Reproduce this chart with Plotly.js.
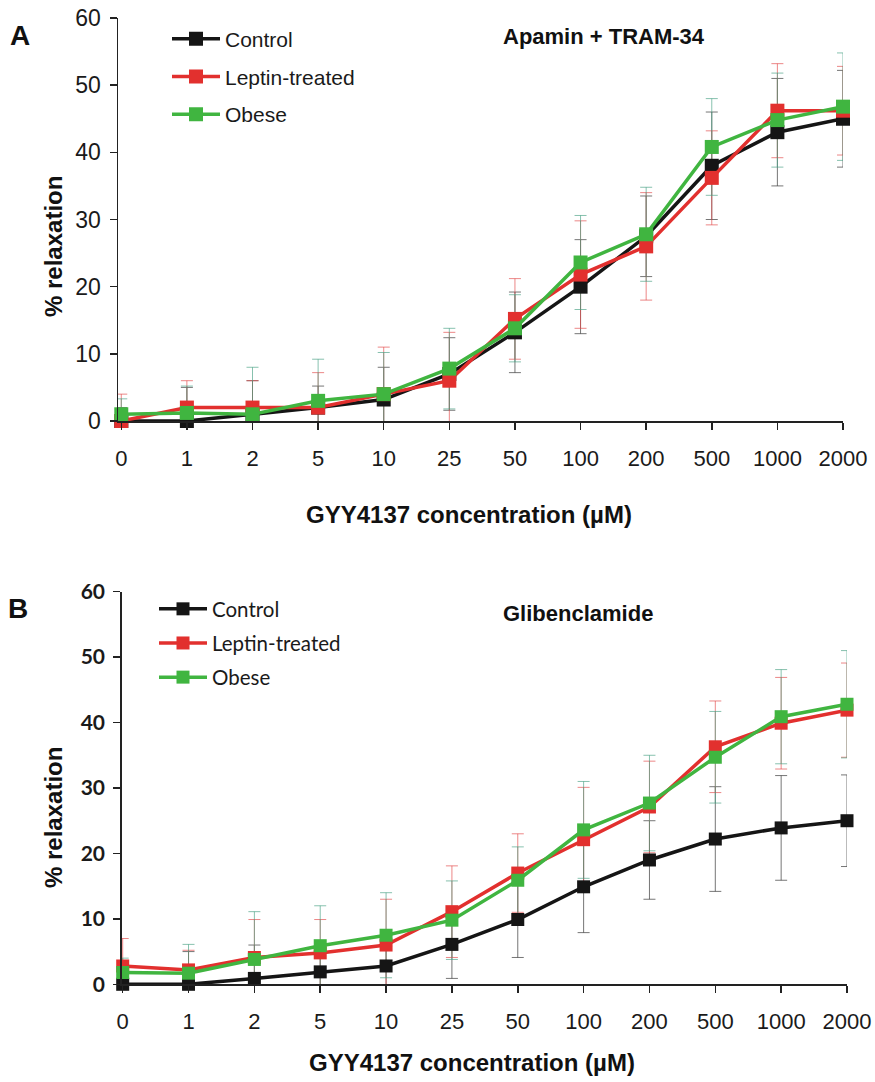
<!DOCTYPE html>
<html>
<head>
<meta charset="utf-8">
<script src="https://cdn.plot.ly/plotly-3.0.1.min.js"></script>
<style>html,body{margin:0;padding:0;background:#fff}#chart{width:875px;height:1082px}</style>
</head>
<body>
<div id="chart"></div>
<script>
// Categories (GYY4137 concentration, µM)
const categories = ['0','1','2','5','10','25','50','100','200','500','1000','2000'];
const seriesNames = ['Control','Leptin-treated','Obese'];

// Panel A: Apamin + TRAM-34
const controlA = [0, 0, 1, 2, 3.2, 7, 13.2, 20, 27.5, 38, 43, 45];
const leptinA  = [0, 2, 2, 2, 4, 6, 15.2, 21.8, 26, 36.2, 46.2, 46.2];
const obeseA   = [1, 1.2, 1, 3, 4, 7.8, 13.8, 23.6, 27.8, 40.8, 44.8, 46.8];
const controlAErr = [2, 5, 5, 3.2, 4.8, 5.4, 6, 7, 6, 8, 8, 7.2];
const leptinAErr  = [4, 4, 4, 5.2, 7, 7.2, 6, 8, 8, 7, 7, 6.6];
const obeseAErr   = [2.3, 4, 7, 6.2, 6.2, 6, 5, 7, 7, 7.2, 7, 8];

// Panel B: Glibenclamide
const controlB = [0, 0, 0.9, 1.9, 2.8, 6.1, 9.9, 14.9, 19, 22.2, 23.9, 25];
const leptinB  = [2.8, 2.2, 4.1, 4.8, 6.0, 11.1, 17, 22.1, 27.1, 36.3, 39.9, 41.9];
const obeseB   = [1.8, 1.7, 3.8, 5.9, 7.5, 9.8, 15.9, 23.6, 27.7, 34.7, 40.9, 42.8];
const controlBErr = [1, 5, 5.1, 2.9, 3, 5.2, 5.8, 7, 6, 8, 8, 7];
const leptinBErr  = [4.2, 3, 5.8, 5.1, 7, 7, 6, 8, 7, 7, 7, 7.2];
const obeseBErr   = [2.2, 4.4, 7.3, 6.1, 6.5, 6, 5.1, 7.4, 7.3, 7, 7.2, 8.2];

const lineColors = ['#151515', '#e2302e', '#40b540'];
const errColors = ['rgba(60,60,60,0.7)', 'rgba(226,70,70,0.65)', 'rgba(70,160,130,0.65)'];

const W = 875, H = 1082;
const ARIAL = 'Liberation Sans, Arial, sans-serif';
const CAL = 'Lato, Carlito, sans-serif';

function panel(vals, errs, xa, ya, legendId, msize) {
  const tr = [];
  // error bars first (behind lines)
  vals.forEach((v, i) => {
    tr.push({
      type: 'scatter', mode: 'markers', x: categories, y: v,
      xaxis: xa, yaxis: ya, showlegend: false, hoverinfo: 'skip',
      marker: {size: 2, opacity: 0},
      cliponaxis: false,
      error_y: {type: 'data', array: errs[i], visible: true, color: errColors[i], thickness: 1, width: 6}
    });
  });
  vals.forEach((v, i) => {
    tr.push({
      type: 'scatter', mode: 'lines+markers', x: categories, y: v,
      xaxis: xa, yaxis: ya, name: seriesNames[i],
      legend: legendId, legendgroup: legendId + i,
      cliponaxis: false,
      line: {color: lineColors[i], width: 3.5},
      marker: {symbol: 'square', size: msize, color: lineColors[i]}
    });
  });
  return tr;
}

const data = [].concat(
  panel([controlA, leptinA, obeseA], [controlAErr, leptinAErr, obeseAErr], 'x', 'y', 'legend', 14),
  panel([controlB, leptinB, obeseB], [controlBErr, leptinBErr, obeseBErr], 'x2', 'y2', 'legend2', 13)
);

function xAxis(domain, range, anchor) {
  return {
    domain: domain, range: range, anchor: anchor, type: 'category',
    categoryorder: 'array', categoryarray: categories,
    showline: true, linecolor: '#222', linewidth: 1.5,
    ticks: 'outside', ticklen: 7, tickwidth: 1.5, tickcolor: '#222',
    showgrid: false, zeroline: false, fixedrange: true,
    tickfont: {family: ARIAL, size: 22, color: '#1a1a1a'},
    ticklabelstandoff: 10
  };
}
function yAxis(domain, anchor, font) {
  return {
    domain: domain, range: [0, 60], anchor: anchor,
    tickvals: [0, 10, 20, 30, 40, 50, 60],
    showline: true, linecolor: '#222', linewidth: 1.5,
    ticks: 'outside', ticklen: 7, tickwidth: 1.5, tickcolor: '#222',
    showgrid: false, zeroline: false, fixedrange: true,
    tickfont: font, ticklabelstandoff: 4
  };
}

function note(text, x, y, size, angle, family) {
  return {text: text, xref: 'paper', yref: 'paper', x: x / W, y: 1 - y / H,
    xanchor: 'center', yanchor: 'middle', showarrow: false, textangle: angle || 0,
    font: {family: family || ARIAL, size: size, color: '#111'}};
}

const layout = {
  width: W, height: H,
  margin: {l: 0, r: 0, t: 0, b: 0},
  paper_bgcolor: '#fff', plot_bgcolor: 'rgba(0,0,0,0)',
  showlegend: true,
  xaxis: xAxis([118/W, 843/W], [-0.05, 11], 'y'),
  yaxis: yAxis([1 - 421/H, 1 - 18/H], 'x', {family: ARIAL, size: 23, color: '#1a1a1a'}),
  xaxis2: xAxis([121.7/W, 847/W], [-0.015, 11], 'y2'),
  yaxis2: yAxis([1 - 984.3/H, 1 - 591.7/H], 'x2', {family: CAL, size: 21, color: '#1a1a1a', weight: 'bold'}),
  legend: {
    x: 167/W, y: 1 - 18.5/H, xanchor: 'left', yanchor: 'top',
    bgcolor: 'rgba(0,0,0,0)', borderwidth: 0,
    font: {family: ARIAL, size: 21, color: '#1a1a1a'},
    tracegroupgap: 7.5, itemwidth: 48, traceorder: 'grouped'
  },
  legend2: {
    x: 154/W, y: 1 - 589/H, xanchor: 'left', yanchor: 'top',
    bgcolor: 'rgba(0,0,0,0)', borderwidth: 0,
    font: {family: CAL, size: 20.5, color: '#1a1a1a'},
    tracegroupgap: 4.5, itemwidth: 48, traceorder: 'grouped'
  },
  annotations: [
    note('<b>A</b>', 20, 36, 28),
    note('<b>B</b>', 18, 608, 28),
    note('<b>Apamin + TRAM-34</b>', 604, 37, 22),
    note('<b>Glibenclamide</b>', 578, 613, 22),
    note('<b>% relaxation</b>', 53, 247, 24, -90),
    note('<b>% relaxation</b>', 53, 818, 24, -90),
    note('<b>GYY4137 concentration (µM)</b>', 469, 515, 24),
    note('<b>GYY4137 concentration (µM)</b>', 472, 1062, 24)
  ]
};

Plotly.newPlot('chart', data, layout, {staticPlot: true, displayModeBar: false});
</script>
</body>
</html>
